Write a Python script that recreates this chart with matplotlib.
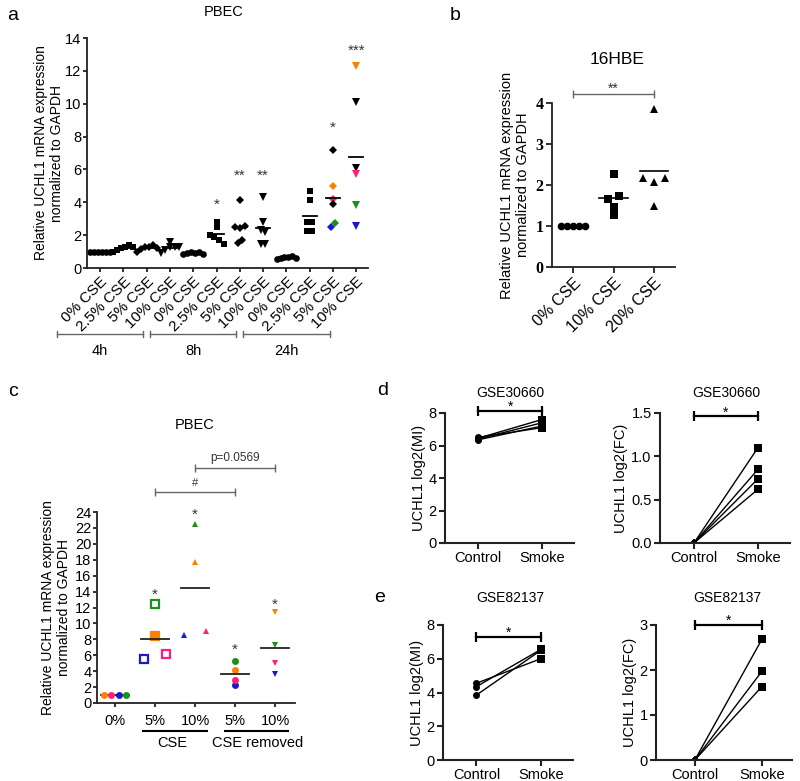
import numpy as np
import matplotlib.pyplot as plt
from matplotlib.lines import Line2D

plt.rcParams['font.family'] = ['Liberation Sans', 'DejaVu Sans']

W, H = 800, 781

orange = '#ff8000'
pink = '#ff1f7a'
blue = '#1a1acc'
green = '#1a8f1a'
grey = '#666666'

# ---- panel a: PBEC, CSE time course
a_labels = ['0% CSE', '2.5% CSE', '5% CSE', '10% CSE'] * 3
a_times = ['4h', '8h', '24h']
a_values = [
    [1.0, 1.0, 1.0, 1.0, 1.0, 1.0],
    [0.95, 1.1, 1.2, 1.3, 1.4, 1.25],
    [0.95, 1.15, 1.25, 1.3, 1.4, 1.2],
    [0.9, 1.1, 1.25, 1.3, 1.6, 1.3],
    [0.85, 0.9, 0.95, 0.9, 0.95, 0.85],
    [2.8, 2.5, 2.0, 1.9, 1.7, 1.45],
    [4.15, 2.5, 2.45, 2.55, 1.55, 1.7],
    [4.3, 2.8, 2.3, 2.2, 1.45, 1.45],
    [0.55, 0.6, 0.65, 0.7, 0.75, 0.6],
    [4.7, 4.15, 2.8, 2.8, 2.25, 2.25],
    [7.2, 5.0, 4.2, 3.9, 2.5, 2.75],
    [12.3, 10.1, 6.1, 5.75, 3.85, 2.55],
]
a_colors = {10: ['k', orange, pink, 'k', blue, green],
            11: [orange, 'k', 'k', pink, green, blue]}
a_sig = {5: '*', 6: '**', 7: '**', 10: '*', 11: '***'}
a_sig_y = {5: 4.1, 6: 5.9, 7: 5.9, 10: 8.8, 11: 13.5}

# ---- panel b: 16HBE
b_labels = ['0% CSE', '10% CSE', '20% CSE']
b_values = [
    [1.0, 1.0, 1.0, 1.0, 1.0],
    [2.26, 1.67, 1.47, 1.28, 1.72],
    [2.16, 3.86, 2.07, 1.49, 2.16],
]

# ---- panel c: PBEC, CSE and CSE removed
c_labels = ['0%', '5%', '10%', '5%', '10%']
c_values = [
    [1.0, 1.0, 1.0, 1.0],
    [5.5, 12.4, 8.4, 6.1],
    [8.6, 22.5, 17.7, 9.1],
    [2.2, 5.3, 4.2, 2.9],
    [3.7, 7.3, 11.4, 5.0],
]
c_colors = [
    [orange, pink, blue, green],
    [blue, green, orange, pink],
    [blue, green, orange, pink],
    [blue, green, orange, pink],
    [blue, green, orange, pink],
]
c_filled = [
    [True] * 4,
    [False, False, True, False],
    [True] * 4,
    [True] * 4,
    [True] * 4,
]
c_sig_y = [None, 14.2, 24.2, 7.2, 12.9]

# ---- panels d, e: GEO datasets
pair_labels = ['Control', 'Smoke']
d_mi_ctrl = [6.45, 6.4, 6.35, 6.5]
d_mi_smoke = [7.6, 7.4, 7.2, 7.1]
d_fc_smoke = [1.1, 0.85, 0.74, 0.62]
e_mi_ctrl = [4.55, 4.35, 3.85]
e_mi_smoke = [6.0, 6.55, 6.5]
e_fc_smoke = [2.68, 1.97, 1.63]


def spread(vals, thr, step, wmax):
    vals = np.asarray(vals, float)
    order = np.argsort(vals, kind='stable')
    offs = np.zeros(len(vals))
    clusters, cur = [], [order[0]]
    for i in order[1:]:
        if vals[i] - vals[cur[-1]] <= thr:
            cur.append(i)
        else:
            clusters.append(cur)
            cur = [i]
    clusters.append(cur)
    for cl in clusters:
        cl = sorted(cl)
        n = len(cl)
        if n > 1:
            w = min(step * (n - 1), wmax)
            for k, i in enumerate(cl):
                offs[i] = -w / 2 + w * k / (n - 1)
    return offs


fig = plt.figure(figsize=(W / 100, H / 100), dpi=100)


def px_axes(left, top, right, bottom):
    return fig.add_axes([left / W, 1 - bottom / H, (right - left) / W, (bottom - top) / H])


def fig_text(x, y, s, **kw):
    fig.text(x / W, 1 - y / H, s, ha=kw.pop('ha', 'center'), va=kw.pop('va', 'center'), **kw)


def fig_line(x0, x1, y, color, lw, tick=0):
    fig.add_artist(Line2D([x0 / W, x1 / W], [1 - y / H] * 2, transform=fig.transFigure,
                          color=color, lw=lw))
    if tick:
        for x in (x0, x1):
            fig.add_artist(Line2D([x / W] * 2, [1 - (y - tick) / H, 1 - (y + tick) / H],
                                  transform=fig.transFigure, color=color, lw=lw))


def style(ax, lw=1.3, size=11, length=4, pad=2):
    for s in ('top', 'right'):
        ax.spines[s].set_visible(False)
    for s in ('left', 'bottom'):
        ax.spines[s].set_linewidth(lw)
        ax.spines[s].set_color('#222222')
    ax.tick_params(width=lw, length=length, labelsize=size, color='#222222', pad=pad)


def bracket(ax, x0, x1, y, color, lw, ms):
    ax.plot([x0, x1], [y, y], color=color, lw=lw, marker='|', markersize=ms,
            markeredgewidth=lw, clip_on=False)


def star(ax, x, y, s, fs=10, color='#333333', rise=0.0):
    # put the centre of the asterisk glyph at (x, y), optionally raised by `rise` points
    ax.annotate(s, (x, y), xytext=(0, -0.56 * fs + rise), textcoords='offset points',
                ha='center', va='baseline', fontsize=fs, color=color, annotation_clip=False)


ylab = 'Relative UCHL1 mRNA expression\nnormalized to GAPDH'

# ================= panel a
ax = px_axes(87, 38, 368, 268)
style(ax, size=10.5, length=3, pad=1)
shapes = ['o', 's', 'D', 'v']
sizes = [4.8, 4.8, 3.8, 5.2]
for i, vals in enumerate(a_values):
    offs = spread(vals, 0.28, 0.2, 0.85)
    cols = a_colors.get(i, ['k'] * len(vals))
    for v, o, c in zip(vals, offs, cols):
        ax.plot(i + o, v, shapes[i % 4], color=c, ms=sizes[i % 4], mew=0)
    ax.plot([i - 0.3, i + 0.3], [np.mean(vals)] * 2, color='k', lw=1.3)
    if i in a_sig:
        star(ax, i, a_sig_y[i], a_sig[i], fs=11)
ax.set_xlim(-0.56, 11.5)
ax.set_ylim(0, 14)
ax.set_yticks(range(0, 15, 2))
ax.set_xticks(range(12))
ax.set_xticklabels(a_labels, rotation=45, ha='right', rotation_mode='anchor', fontsize=11)
ax.tick_params(axis='x', pad=2)
ax.set_ylabel(ylab, fontsize=10, linespacing=1.2)
ax.yaxis.set_label_coords(-0.082, 0.5)
for (x0, x1), t in zip([(57, 143), (150, 236), (243, 330)], a_times):
    fig_line(x0, x1, 334, grey, 1.0, tick=3)
    fig_text((x0 + x1) / 2, 351, t, fontsize=10.5)
fig_text(224, 12, 'PBEC', fontsize=10.5)
fig_text(13, 15, 'a', fontsize=14)

# ================= panel b
ax = px_axes(552, 103, 675, 267)
style(ax)
b_shapes = ['o', 's', '^']
for i, vals in enumerate(b_values):
    offs = spread(vals, 0.15, 0.27, 0.6)
    ax.plot(i + offs, vals, b_shapes[i], color='k', ms=5.5, mew=0, ls='none')
    ax.plot([i - 0.35, i + 0.35], [np.mean(vals)] * 2, color='k', lw=1.2)
ax.set_xlim(-0.52, 2.52)
ax.set_ylim(0, 4)
ax.set_yticks(range(5))
ax.set_yticklabels([str(v) for v in range(5)], family='Liberation Serif',
                   fontweight='bold', fontsize=11.5)
ax.set_xticks(range(3))
ax.set_xticklabels(b_labels, rotation=45, ha='right', rotation_mode='anchor', fontsize=11.5)
ax.set_ylabel(ylab, fontsize=10.5, linespacing=1.2)
bracket(ax, 0, 2, 4.22, grey, 1.0, 6)
star(ax, 1, 4.45, '**', fs=10)
fig_text(617, 60, '16HBE', fontsize=12.5)
fig_text(455, 15, 'b', fontsize=14)

# ================= panel c
ax = px_axes(97, 512, 295, 703)
style(ax, size=10.5, length=3, pad=1)
c_shapes = ['o', 's', '^', 'o', 'v']
for i, vals in enumerate(c_values):
    offs = spread(vals, 0.65, 0.55, 0.55)
    for v, o, c, f in zip(vals, offs, c_colors[i], c_filled[i]):
        if c_shapes[i] == 's':
            ax.plot(i + o, v, 's', ms=6, mec=c, mfc=c if f else 'white', mew=1.6)
        else:
            ax.plot(i + o, v, c_shapes[i], color=c, ms=5, mew=0)
    ax.plot([i - 0.34, i + 0.34], [np.mean(vals)] * 2, color='#222222', lw=1.3,
            zorder=1 if i == 0 else 2)
    if c_sig_y[i] is not None:
        star(ax, i, c_sig_y[i], '*', fs=11)
ax.set_xlim(-0.45, 4.5)
ax.set_ylim(0, 24)
ax.set_yticks(range(0, 25, 2))
ax.set_xticks(range(5))
ax.set_xticklabels(c_labels, fontsize=10.5)
ax.tick_params(axis='x', pad=5)
ax.set_ylabel(ylab, fontsize=10, linespacing=1.2)
ax.yaxis.set_label_coords(-0.13, 0.5)
bracket(ax, 1, 3, 26.5, grey, 1.0, 6)
ax.annotate('#', (2, 26.5), xytext=(0, 3), textcoords='offset points', ha='center',
            va='bottom', fontsize=8, color='#333333', annotation_clip=False)
bracket(ax, 2, 4, 29.5, grey, 1.0, 6)
ax.annotate('p=0.0569', (3, 29.5), xytext=(0, 3), textcoords='offset points', ha='center',
            va='bottom', fontsize=8.5, color='#333333', annotation_clip=False)
fig_line(143, 207, 731, 'k', 1.5)
fig_line(225, 288, 731, 'k', 1.5)
fig_text(172, 743, 'CSE', fontsize=10.5)
fig_text(258, 743, 'CSE removed', fontsize=10.5)
fig_text(195, 425, 'PBEC', fontsize=10.5)
fig_text(13, 392, 'c', fontsize=14)


# ================= panels d, e
def paired(rect, xlim, ctrl, smoke, ylim, yticks, fmt, ylabel, by, title, tx, ty,
           ctrl_marker='o'):
    ax = px_axes(*rect)
    style(ax, lw=1.5, size=10.5)
    for c, s in zip(ctrl, smoke):
        ax.plot([0, 1], [c, s], color='k', lw=1.0)
        ax.plot(0, c, ctrl_marker, color='k', ms=5 if ctrl_marker == 'o' else 4, mew=0)
        ax.plot(1, s, 's', color='k', ms=5.5, mew=0)
    ax.set_xlim(*xlim)
    ax.set_ylim(*ylim)
    ax.set_yticks(yticks)
    ax.set_yticklabels([fmt.format(v) for v in yticks])
    ax.set_xticks([0, 1])
    ax.set_xticklabels(pair_labels, fontsize=10.5)
    ax.set_ylabel(ylabel, fontsize=10.5, labelpad=2)
    bracket(ax, 0, 1, by, 'k', 1.6, 7)
    star(ax, 0.5, by, '*', fs=10, color='k', rise=5.5)
    fig_text(tx, ty, title, fontsize=10)
    return ax


paired((445, 413, 574, 543), (-0.52, 1.5), d_mi_ctrl, d_mi_smoke, (0, 8), [0, 2, 4, 6, 8],
       '{:g}', 'UCHL1 log2(MI)', 8.15, 'GSE30660', 510, 393)
paired((660, 413, 790, 543), (-0.53, 1.5), [0] * len(d_fc_smoke), d_fc_smoke, (0, 1.5),
       [0, 0.5, 1.0, 1.5], '{:.1f}', 'UCHL1 log2(FC)', 1.46, 'GSE30660', 726, 393,
       ctrl_marker='D')
paired((443, 625, 573, 760), (-0.52, 1.5), e_mi_ctrl, e_mi_smoke, (0, 8), [0, 2, 4, 6, 8],
       '{:g}', 'UCHL1 log2(MI)', 7.3, 'GSE82137', 510, 598)
paired((656, 625, 792, 760), (-0.58, 1.45), [0] * len(e_fc_smoke), e_fc_smoke, (0, 3),
       [0, 1, 2, 3], '{:g}', 'UCHL1 log2(FC)', 3.0, 'GSE82137', 727, 598,
       ctrl_marker='D')
fig_text(383, 390, 'd', fontsize=14)
fig_text(380, 598, 'e', fontsize=14)

fig.savefig('out.png', dpi=100)
